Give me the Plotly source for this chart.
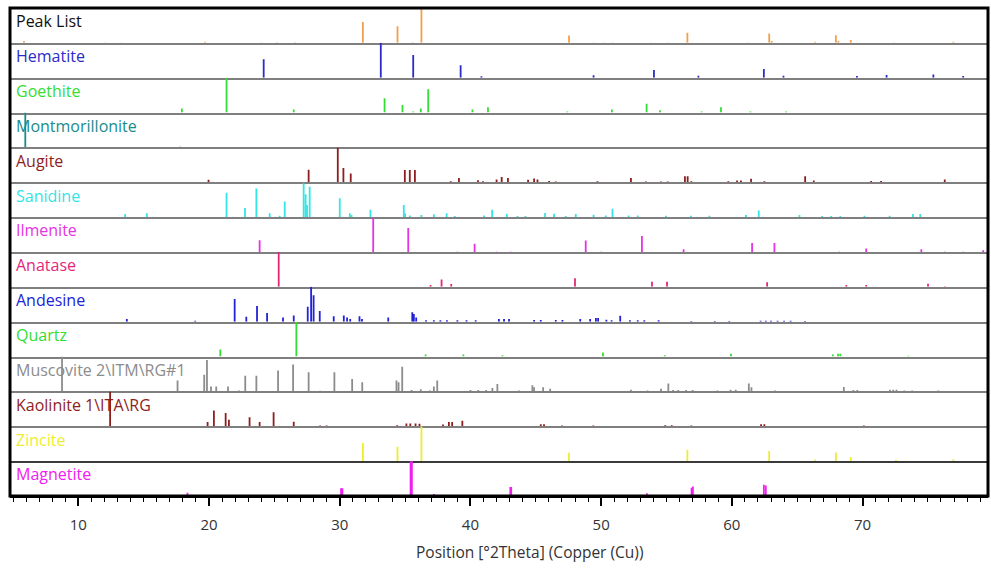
import plotly.graph_objects as go
from plotly.subplots import make_subplots

# ---------------- data (peak positions in °2θ, relative heights %) ----------------
phase_names = ["Peak List", "Hematite", "Goethite", "Montmorillonite", "Augite", "Sanidine",
               "Ilmenite", "Anatase", "Andesine", "Quartz", "Muscovite 2\\ITM\\RG#1",
               "Kaolinite 1\\ITA\\RG", "Zincite", "Magnetite"]

peak_list_pos = [5.84, 12.05, 13.2, 19.7, 24.0, 25.2, 26.6, 31.77, 34.42, 35.57, 36.25, 47.54,
                 49.46, 50.2, 50.9, 53.8, 55.1, 56.6, 61.2, 62.86, 63.05, 66.38, 67.96, 68.15, 69.1, 72.4, 76.95]
peak_list_int = [5, 1, 1, 3, 1, 2, 2, 60, 48, 2, 100, 21,
                 1, 1, 1, 1, 1, 29, 1, 27, 5, 3, 22, 5, 8, 1, 3]

hematite_pos = [24.18, 33.14, 35.62, 39.25, 40.84, 49.42, 54.04, 57.44, 62.45, 63.95, 69.57, 71.84, 75.42, 77.7]
hematite_int = [53, 100, 65, 36, 4, 7, 22, 6, 25, 6, 5, 8, 9, 5]

goethite_pos = [17.92, 21.34, 26.48, 33.43, 34.8, 35.62, 36.2, 36.77, 40.15, 41.34,
                47.42, 50.82, 53.48, 54.5, 57.69, 59.17, 61.42, 64.15]
goethite_int = [12, 100, 9, 41, 22, 3, 12, 67, 9, 15,
                3, 9, 25, 7, 3, 15, 3, 3]

montmorillonite_pos = [5.94, 17.8, 19.7, 20.6, 23.0, 26.6, 29.0, 35.0, 62.0, 66.7]
montmorillonite_int = [100, 2, 1, 1, 1, 1, 1, 1, 1, 1]

augite_pos = [13.7, 19.96, 27.62, 29.85, 30.28, 30.84, 34.98, 35.36, 35.75, 38.49, 39.12, 40.58, 40.96,
              42.0, 42.39, 42.87, 44.41, 44.87, 45.13, 46.02, 46.53, 49.72, 52.28, 53.43, 54.58, 55.09,
              56.41, 56.62, 56.9, 59.73, 60.4, 60.7, 61.47, 62.49, 64.0, 64.4, 65.61, 66.27, 66.8, 67.3,
              67.9, 70.66, 71.42, 73.05, 73.8, 74.6, 76.29, 78.9]
augite_int = [1, 7, 36, 100, 41, 25, 35, 35, 35, 3, 12, 6, 3,
              8, 15, 12, 7, 11, 8, 4, 2, 3, 12, 2, 2, 2,
              17, 17, 3, 3, 5, 5, 10, 3, 1, 1, 17, 5, 1, 1,
              1, 4, 4, 1, 1, 1, 8, 1]

sanidine_pos = [13.58, 15.24, 21.34, 22.75, 23.62, 24.64, 25.4, 25.79, 27.24, 27.39, 27.5, 27.7,
                30.0, 30.77, 30.9, 32.35, 34.9, 35.0, 35.36, 36.24, 37.2, 38.18, 38.8, 41.03, 41.66,
                42.78, 43.6, 44.2, 45.71, 46.4, 47.3, 48.06, 49.42, 50.36, 50.87, 52.1, 52.8, 54.96,
                56.87, 58.28, 61.09, 62.06, 65.17, 66.9, 67.6, 68.3, 70.15, 72.07, 73.86, 74.42]
sanidine_int = [9, 11, 70, 26, 82, 11, 4, 45, 97, 66, 35, 87,
                54, 11, 6, 21, 35, 11, 5, 6, 8, 11, 3, 5, 21,
                10, 3, 3, 12, 10, 3, 9, 7, 5, 24, 5, 5, 4,
                4, 4, 6, 19, 6, 3, 3, 3, 4, 4, 9, 9]

ilmenite_pos = [23.87, 32.56, 35.24, 39.0, 40.32, 42.0, 43.08, 48.82, 50.0, 53.12, 56.31, 61.55,
                63.26, 68.2, 70.28, 74.5, 76.3, 77.7, 79.23]
ilmenite_int = [34, 100, 69, 1, 24, 1, 1, 33, 1, 46, 8, 26,
                26, 1, 10, 8, 1, 1, 5]

anatase_pos = [25.33, 36.95, 37.79, 38.53, 48.0, 53.89, 55.04, 62.7, 68.76, 70.28, 75.01, 76.3]
anatase_int = [100, 5, 21, 8, 25, 15, 15, 13, 5, 5, 9, 2]

andesine_pos = [13.71, 18.94, 21.96, 22.85, 23.67, 24.44, 25.66, 26.48, 27.55, 27.81, 28.0, 28.47,
                29.54, 30.31, 30.56, 30.8, 31.51, 31.7, 33.71, 35.55, 35.67, 35.85, 36.6, 37.2,
                37.7, 38.2, 39.0, 39.7, 40.4, 42.18, 42.57, 42.95, 44.87, 45.38, 46.53, 47.04,
                48.4, 49.16, 49.6, 49.77, 50.4, 50.8, 51.46, 52.2, 52.8, 53.3, 54.4, 56.9, 58.7,
                59.8, 62.2, 62.6, 63.0, 63.5, 64.0, 64.5, 65.6]
andesine_int = [8, 3, 65, 14, 45, 25, 12, 18, 43, 100, 76, 31,
                16, 18, 12, 8, 16, 8, 12, 27, 22, 12, 4, 4,
                4, 4, 4, 4, 4, 8, 8, 8, 5, 5, 5, 5,
                8, 8, 11, 11, 6, 4, 17, 4, 4, 4, 4, 2, 2,
                2, 3, 3, 3, 3, 3, 3, 2]

quartz_pos = [20.86, 26.68, 36.57, 39.46, 42.45, 50.14, 54.88, 59.94, 67.73, 68.13, 68.3, 73.5]
quartz_int = [20, 100, 6, 6, 4, 12, 4, 8, 6, 8, 8, 2]

muscovite_pos = [8.75, 17.59, 19.63, 19.84, 20.15, 20.55, 21.45, 22.29, 22.77, 23.62, 25.28, 26.43,
                 27.62, 28.5, 29.59, 30.95, 31.72, 34.34, 34.5, 34.78, 35.5, 36.2, 36.9, 37.2, 37.46,
                 40.0, 40.6, 41.2, 41.68, 42.06, 43.72, 44.74, 44.87, 45.56, 46.1, 52.28, 53.55, 54.58,
                 55.14, 55.5, 55.9, 56.5, 57.0, 58.9, 59.9, 60.3, 61.3, 61.5, 63.3, 68.57, 69.3, 69.6,
                 72.1, 72.35, 72.6, 73.2, 73.8, 75.8]
muscovite_int = [100, 31, 48, 90, 14, 14, 14, 3, 45, 45, 60, 77,
                 55, 2, 55, 36, 26, 31, 26, 71, 4, 6, 3, 14, 31,
                 4, 4, 4, 10, 21, 3, 18, 12, 12, 8, 5, 3, 8,
                 23, 4, 4, 4, 4, 3, 5, 5, 23, 12, 3, 13, 4, 4,
                 5, 5, 5, 3, 3, 3]

kaolinite_pos = [12.43, 19.89, 20.37, 21.27, 21.52, 23.1, 23.87, 24.94, 26.48, 28.5, 29.0, 34.4,
                 35.1, 35.4, 35.8, 36.1, 37.9, 38.35, 38.6, 39.38, 45.38, 45.63, 47.0, 49.4, 54.9,
                 55.4, 56.9, 62.24, 62.49, 70.1]
kaolinite_int = [100, 12, 45, 38, 19, 26, 12, 40, 13, 2, 2, 3,
                 8, 8, 8, 7, 5, 12, 12, 16, 6, 6, 2, 2, 3,
                 3, 2, 6, 6, 2]

zincite_pos = [31.77, 34.42, 36.25, 47.54, 56.6, 62.86, 66.38, 67.96, 69.1, 72.56, 76.95]
zincite_int = [52, 41, 100, 24, 33, 29, 5, 25, 12, 3, 5]

magnetite_pos = [18.35, 30.1, 30.2, 35.42, 35.52, 37.2, 43.05, 43.12, 53.5, 56.92, 57.02, 62.45, 62.6]
magnetite_int = [9, 22, 22, 100, 100, 6, 26, 26, 8, 24, 27, 32, 30]

phase_positions = [peak_list_pos, hematite_pos, goethite_pos, montmorillonite_pos, augite_pos,
                   sanidine_pos, ilmenite_pos, anatase_pos, andesine_pos, quartz_pos,
                   muscovite_pos, kaolinite_pos, zincite_pos, magnetite_pos]
phase_intensities = [peak_list_int, hematite_int, goethite_int, montmorillonite_int, augite_int,
                     sanidine_int, ilmenite_int, anatase_int, andesine_int, quartz_int,
                     muscovite_int, kaolinite_int, zincite_int, magnetite_int]

x_ticks = [10, 20, 30, 40, 50, 60, 70]
x_title = "Position [°2Theta] (Copper (Cu))"

# ---------------- styling ----------------
line_colors = ["#F2A04C", "#2B2BC8", "#33DD33", "#1A8C8C", "#8E1E1E", "#33E5E5", "#E633E6",
               "#E3277A", "#2222D9", "#33DD33", "#8C8C8C", "#8E1E1E", "#EDED30", "#F020F0"]
label_colors = ["#111111"] + line_colors[1:]
FONT = "Open Sans"

n = len(phase_names)
fig = make_subplots(rows=n, cols=1, shared_xaxes=True, vertical_spacing=0)

for i in range(n):
    xs, ys = [], []
    for p, h in zip(phase_positions[i], phase_intensities[i]):
        xs += [p, p, None]
        ys += [0, h, None]
    fig.add_trace(go.Scatter(x=xs, y=ys, mode="lines",
                             line=dict(color=line_colors[i], width=1.8),
                             hoverinfo="skip", showlegend=False), row=i + 1, col=1)
    fig.update_yaxes(range=[0, 100], showticklabels=False, showgrid=False, zeroline=False,
                     showline=False, fixedrange=True, row=i + 1, col=1)
    if i == n - 1:
        sep_color = "#000000"
    elif i == n - 2:
        sep_color = "#3A3A3A"
    else:
        sep_color = "#7F7F7F"
    fig.update_xaxes(range=[4.77, 79.6], showgrid=False, zeroline=False,
                     showline=True, linecolor=sep_color, linewidth=2, row=i + 1, col=1)
    yref = "y domain" if i == 0 else f"y{i + 1} domain"
    fig.add_annotation(text=phase_names[i], xref="paper", yref=yref, x=0.004, y=0.62,
                       xanchor="left", yanchor="middle", showarrow=False,
                       font=dict(family=FONT, size=16, color=label_colors[i]))

fig.update_xaxes(tickvals=x_ticks, ticks="outside", ticklen=8, tickwidth=1.5, tickcolor="#000",
                 ticklabelstandoff=6,
                 tickfont=dict(family=FONT, size=15, color="#333333"),
                 minor=dict(dtick=1, tick0=0, ticks="outside", ticklen=4, tickwidth=1, tickcolor="#000"),
                 row=n, col=1)

fig.add_annotation(text=x_title, xref="paper", yref="paper", x=0.531, y=-0.115,
                   xanchor="center", yanchor="middle", showarrow=False,
                   font=dict(family=FONT, size=15.5, color="#333333"))

fig.add_shape(type="rect", xref="paper", yref="paper", x0=0, x1=1, y0=0, y1=1,
              line=dict(color="#000000", width=3), layer="above")

fig.update_layout(width=991, height=570, margin=dict(l=10, r=3, t=8, b=74),
                  plot_bgcolor="#FFFFFF", paper_bgcolor="#FFFFFF",
                  font=dict(family=FONT))

fig.write_html("out.html", config={"displayModeBar": False},
               post_script="document.body.style.margin='0';document.body.style.overflow='hidden';")
